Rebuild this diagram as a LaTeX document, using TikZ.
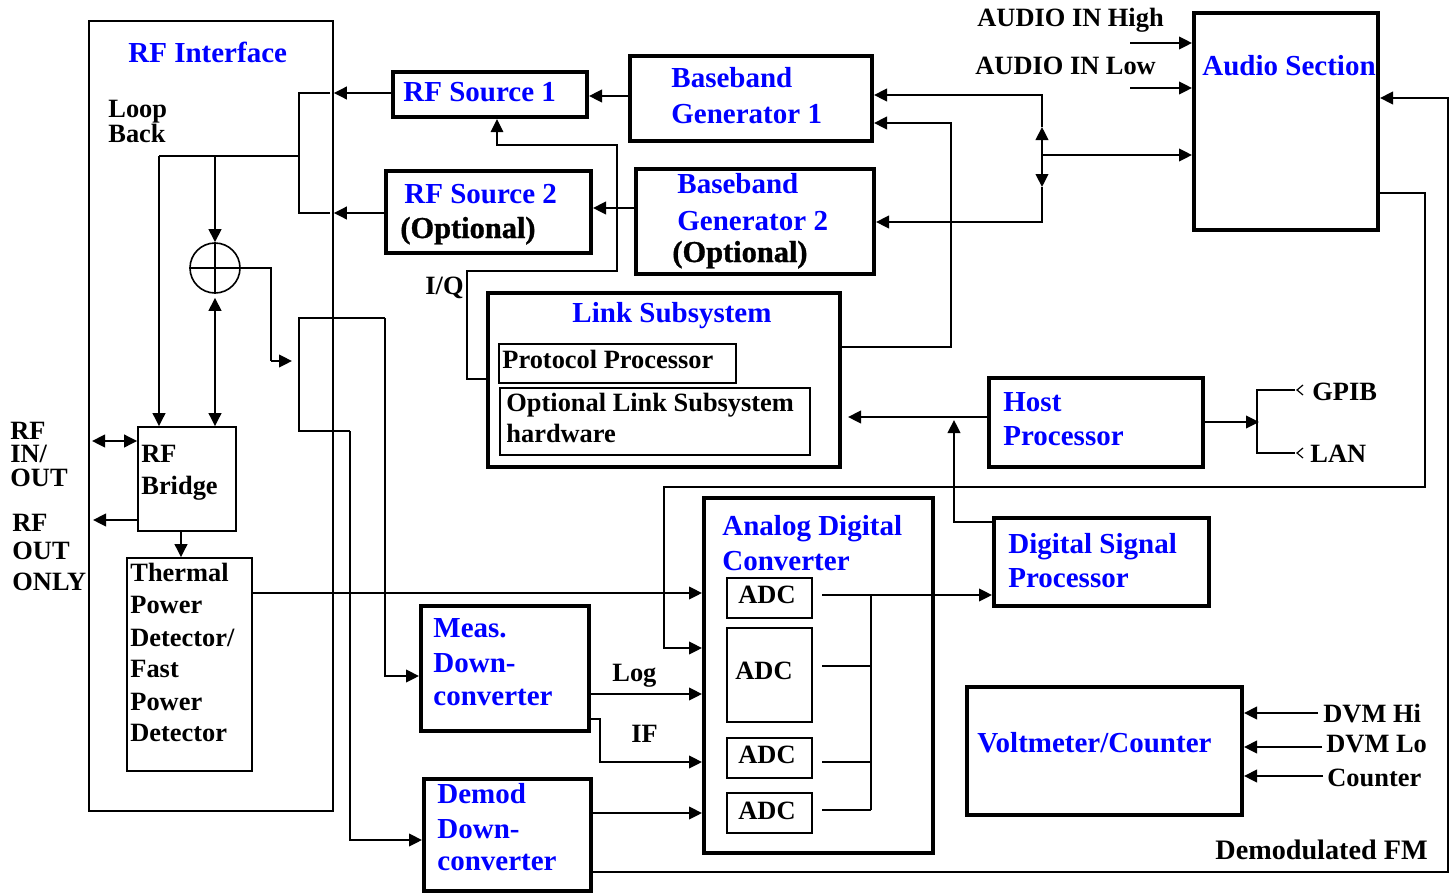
\documentclass[tikz,border=0pt]{standalone}
\usepackage{fontspec}
\setmainfont{Liberation Serif}
\newfontfamily\heavyopt{Liberation Serif Bold}[FakeBold=1]
\usetikzlibrary{fit,arrows.meta}
\begin{document}
\begin{tikzpicture}[x=0.5pt,y=-0.5pt,
  tbox/.style={draw,line width=2pt,inner sep=0pt},
  nbox/.style={draw,line width=0.85pt,inner sep=0pt},
  ln/.style={line width=1pt},
  iq/.style={line width=0.65pt},
  arr/.style={line width=1pt,-{Triangle[length=6.5pt,width=6.3pt]}},
  darr/.style={line width=1pt,{Triangle[length=6.5pt,width=6.3pt]}-{Triangle[length=6.5pt,width=6.3pt]}},
  bt/.style={anchor=base west,inner sep=0pt,text=blue,font=\fontsize{14.5}{17}\selectfont\bfseries},
  kt/.style={anchor=base west,inner sep=0pt,font=\fontsize{13.2}{16}\selectfont\bfseries},
  ot/.style={anchor=base west,inner sep=0pt,font=\fontsize{15.2}{17}\selectfont\heavyopt},
]
\useasboundingbox (0,0) rectangle (1455,894);

% ---------- boxes ----------
\node[nbox,fit={(89,21)(333,811)}] (rfi) {};
\node[tbox,fit={(393,72)(587,117)}] (rfs1) {};
\node[tbox,fit={(386,171)(591,253)}] (rfs2) {};
\node[tbox,fit={(630,56)(872,141)}] (bbg1) {};
\node[tbox,fit={(636,169)(874,274)}] (bbg2) {};
\node[tbox,fit={(1194,13)(1378,230)}] (audio) {};
\node[tbox,fit={(488,293)(840,467)}] (link) {};
\node[nbox,fit={(499,344)(736,383)}] (proto) {};
\node[nbox,fit={(500,388)(810,455)}] (optl) {};
\node[tbox,fit={(989,378)(1203,467)}] (host) {};
\node[tbox,fit={(994,518)(1209,606)}] (dsp) {};
\node[tbox,fit={(704,498)(933,853)}] (adcb) {};
\node[nbox,fit={(727,578)(812,618)}] (adc1) {};
\node[nbox,fit={(727,628)(812,722)}] (adc2) {};
\node[nbox,fit={(727,738)(812,778)}] (adc3) {};
\node[nbox,fit={(727,793)(812,833)}] (adc4) {};
\node[tbox,fit={(421,606)(589,731)}] (meas) {};
\node[tbox,fit={(424,779)(591,891)}] (demod) {};
\node[tbox,fit={(967,687)(1242,815)}] (volt) {};
\node[nbox,fit={(138,427)(236,531)}] (bridge) {};
\node[nbox,fit={(127,558)(252,771)}] (therm) {};
\node[circle,draw,line width=0.8pt,minimum size=25pt,inner sep=0pt] (mix) at (215,268) {};
\draw[line width=0.8pt] (mix.north) -- (mix.south) (mix.west) -- (mix.east);

% ---------- texts ----------
\node[bt] (tRFI) at (128,62) {RF Interface};
\node[kt] (tLoop) at (108,117) {Loop};
\node[kt] (tBack) at (108,142) {Back};
\node[bt] (tS1) at (403,101) {RF Source 1};
\node[bt] (tS2) at (404,203) {RF Source 2};
\node[ot] (tS2o) at (400,238) {(Optional)};
\node[bt] (tB1a) at (671,87) {Baseband};
\node[bt] (tB1b) at (671,123) {Generator 1};
\node[bt] (tB2a) at (677,193) {Baseband};
\node[bt] (tB2b) at (677,230) {Generator 2};
\node[ot] (tB2o) at (672,262) {(Optional)};
\node[kt] (tAH) at (977,26) {AUDIO IN High};
\node[kt] (tAL) at (975,74) {AUDIO IN Low};
\node[bt] (tAud) at (1202,75) {Audio Section};
\node[kt] (tIQ) at (425,294) {I/Q};
\node[bt,anchor=base] (tLink) at (672,322) {Link Subsystem};
\node[kt] (tProt) at (502,368) {Protocol Processor};
\node[kt] (tOpt1) at (506,411) {Optional Link Subsystem};
\node[kt] (tOpt2) at (506,442) {hardware};
\node[bt] (tH1) at (1003,411) {Host};
\node[bt] (tH2) at (1003,445) {Processor};
\node[kt] (tGP) at (1312,400) {GPIB};
\node[kt] (tLAN) at (1310,462) {LAN};
\node[kt,anchor=north west,align=left,font=\fontsize{13.2}{11.8}\selectfont\bfseries] (tRF) at (10,421.5) {RF\\IN/\\OUT};
\node[kt] (tRO1) at (12,531) {RF};
\node[kt] (tRO2) at (12,559) {OUT};
\node[kt] (tRO3) at (12,590) {ONLY};
\node[kt] (tBr1) at (141,462) {RF};
\node[kt] (tBr2) at (141,494) {Bridge};
\node[kt] (tTh1) at (130,581) {Thermal};
\node[kt] (tTh2) at (130,613) {Power};
\node[kt] (tTh3) at (130,646) {Detector/};
\node[kt] (tTh4) at (130,677) {Fast};
\node[kt] (tTh5) at (130,710) {Power};
\node[kt] (tTh6) at (130,741) {Detector};
\node[bt] (tD1) at (1008,553) {Digital Signal};
\node[bt] (tD2) at (1008,587) {Processor};
\node[bt] (tA1) at (722,535) {Analog Digital};
\node[bt] (tA2) at (722,570) {Converter};
\node[kt,anchor=base] (tadc1) at (767,603) {ADC};
\node[kt,anchor=base] (tadc2) at (764,679) {ADC};
\node[kt,anchor=base] (tadc3) at (767,763) {ADC};
\node[kt,anchor=base] (tadc4) at (767,819) {ADC};
\node[bt] (tM1) at (433,637) {Meas.};
\node[bt] (tM2) at (433,672) {Down-};
\node[bt] (tM3) at (433,705) {converter};
\node[bt] (tDm1) at (437,803) {Demod};
\node[bt] (tDm2) at (437,838) {Down-};
\node[bt] (tDm3) at (437,870) {converter};
\node[kt] (tLog) at (612,681) {Log};
\node[kt] (tIF) at (631,742) {IF};
\node[bt] (tV) at (977,752) {Voltmeter/Counter};
\node[kt] (tDH) at (1323,722) {DVM Hi};
\node[kt] (tDL) at (1326,752) {DVM Lo};
\node[kt] (tCn) at (1327,786) {Counter};
\node[anchor=base west,inner sep=0pt,font=\fontsize{14.1}{17}\selectfont\bfseries] (tFM) at (1215,859) {Demodulated FM};

% ---------- RF interface internals ----------
\draw[arr] (rfs1.west |- 0,93) -- (rfi.east |- 0,93);
\draw[arr] (rfs2.west |- 0,213) -- (rfi.east |- 0,213);
\draw[ln] (330,93) -- (299,93) -- (299,213) -- (330,213);
\draw[ln] (299,156) -- (159,156);
\draw[arr] (159,156) -- (bridge.north -| 159,0);
\draw[arr] (215,156) -- (mix.north);
\draw[darr] ([yshift=-2pt]mix.south) -- (mix.south |- bridge.north);
\draw[ln] (mix.east) -- (271,268) -- (271,361);
\draw[arr] (271,361) -- (292,361);
\draw[ln] (385,318) -- (299,318) -- (299,431) -- (350,431);
\draw[arr] (385,318) |- (meas.west |- 0,676);
\draw[arr] (350,431) |- (demod.west |- 0,840);
\draw[darr] (92,441) -- (bridge.west |- 0,441);
\draw[arr] (bridge.west |- 0,520) -- (93,520);
\draw[arr] (bridge.south -| 181,0) -- (therm.north -| 181,0);
\draw[arr] (therm.east |- 0,593) -- (adcb.west |- 0,593);

% ---------- sources / baseband ----------
\draw[arr] (bbg1.west |- 0,96) -- (rfs1.east |- 0,96);
\draw[arr] (bbg2.west |- 0,208) -- (rfs2.east |- 0,208);
\draw[iq,-{Triangle[length=6.5pt,width=6.3pt]}] (link.west |- 0,379) -- (467,379) -- (467,271) -- (617,271) -- (617,145) -- (497,145) -- (rfs1.south -| 497,0);
\draw[arr] (link.east |- 0,347) -- (951,347) -- (951,123) -- (bbg1.east |- 0,123);
\coordinate (aj) at (1042,155);
\draw[arr] (aj) -- (audio.west |- aj);
\draw[arr] (aj) -- (1042,127);
\draw[arr] (1042,127) -- (1042,95) -- (bbg1.east |- 0,95);
\draw[arr] (aj) -- (1042,187);
\draw[arr] (1042,187) -- (1042,222) -- (bbg2.east |- 0,222);
\draw[arr] (1130,43) -- (audio.west |- 0,43);
\draw[arr] (1130,88) -- (audio.west |- 0,88);
\draw[arr] (demod.east |- 0,872) -- (1448,872) -- (1448,98) -- (audio.east |- 0,98);
\draw[arr] (audio.east |- 0,193) -- (1425,193) -- (1425,487) -- (664,487) -- (664,648) -- (adcb.west |- 0,648);

% ---------- host / dsp ----------
\draw[arr] (host.west |- 0,417) -- (848,417);
\draw[arr] (dsp.west |- 0,522) -- (954,522) -- (954,420);
\draw[arr] (host.east |- 0,422) -- (1259,422);
\draw[ln] (1295,390) -- (1257,390) -- (1257,453) -- (1295,453);
\draw[line width=0.6pt] (1303,385) -- (1297,390) -- (1303,395);
\draw[line width=0.6pt] (1303,448) -- (1297,453) -- (1303,458);

% ---------- ADC ----------
\draw[arr] (822,595) -- (dsp.west |- 0,595);
\draw[ln] (871,595) -- (871,810);
\draw[ln] (822,666) -- (871,666);
\draw[ln] (822,762) -- (871,762);
\draw[ln] (822,810) -- (871,810);
\draw[arr] (meas.east |- 0,694) -- (adcb.west |- 0,694);
\draw[arr] (meas.east |- 0,719) -- (600,719) |- (adcb.west |- 0,762);
\draw[arr] (demod.east |- 0,813) -- (adcb.west |- 0,813);

% ---------- voltmeter ----------
\draw[arr] (1318,713) -- (volt.east |- 0,713);
\draw[arr] (1322,747) -- (volt.east |- 0,747);
\draw[arr] (1323,776) -- (volt.east |- 0,776);
\end{tikzpicture}
\end{document}
